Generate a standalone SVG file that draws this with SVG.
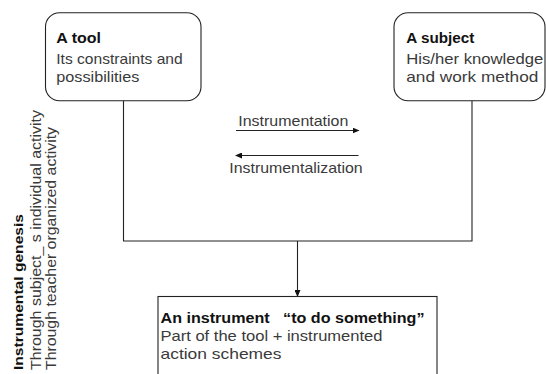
<svg xmlns="http://www.w3.org/2000/svg" width="546" height="374" viewBox="0 0 546 374">
<style>
.box{fill:#fff;stroke:#222;stroke-width:1.1}
.t{font-family:"Liberation Sans",Arial,sans-serif;font-size:15px;fill:#3a3a3a}
.b{font-family:"Liberation Sans",Arial,sans-serif;font-size:14.5px;font-weight:bold;fill:#111}
.v{font-family:"Liberation Sans",Arial,sans-serif;font-size:14.5px;fill:#3a3a3a}
.vb{font-family:"Liberation Sans",Arial,sans-serif;font-size:13px;font-weight:bold;fill:#111}
.c{fill:none;stroke:#222;stroke-width:1.1}
.pre{white-space:pre}
</style>
<defs>
<marker id="ah" markerWidth="7" markerHeight="6" refX="6" refY="3" orient="auto" markerUnits="userSpaceOnUse">
<path d="M0,0 L7,3 L0,6 Z" fill="#111"/>
</marker>
</defs>
<rect width="546" height="374" fill="#fff"/>
<g id="connectors">
<path class="c" d="M123.5,100.5 V241 H472 V100.5"/>
<line class="c" x1="297.5" y1="241" x2="297.5" y2="296" marker-end="url(#ah)"/>
<line class="c" x1="236" y1="130.5" x2="358.5" y2="130.5" marker-end="url(#ah)"/>
<line class="c" x1="358.5" y1="155.5" x2="236" y2="155.5" marker-end="url(#ah)"/>
<text class="t" x="238.3" y="126" textLength="110" lengthAdjust="spacingAndGlyphs">Instrumentation</text>
<text class="t" x="229.3" y="172.5" textLength="133.4" lengthAdjust="spacingAndGlyphs">Instrumentalization</text>
</g>
<g id="tool">
<rect class="box" x="45.5" y="12.7" width="155.5" height="88" rx="14" ry="14"/>
<text class="b" x="56.3" y="43" textLength="44.7" lengthAdjust="spacingAndGlyphs">A tool</text>
<text class="t" x="56.3" y="63.5" textLength="126.4" lengthAdjust="spacingAndGlyphs">Its constraints and</text>
<text class="t" x="56.3" y="82" textLength="83" lengthAdjust="spacingAndGlyphs">possibilities</text>
</g>
<g id="subject">
<rect class="box" x="394" y="12.7" width="151" height="88" rx="14" ry="14"/>
<text class="b" x="406.3" y="43" textLength="68" lengthAdjust="spacingAndGlyphs">A subject</text>
<text class="t" x="406.3" y="63.5" textLength="137" lengthAdjust="spacingAndGlyphs">His/her knowledge</text>
<text class="t" x="406.3" y="82" textLength="132" lengthAdjust="spacingAndGlyphs">and work method</text>
</g>
<g id="instrument">
<rect class="box" x="158" y="296.5" width="279" height="90"/>
<text class="b pre" x="160.5" y="323" textLength="264" lengthAdjust="spacingAndGlyphs">An instrument   “to do something”</text>
<text class="t" x="160.5" y="341" textLength="222" lengthAdjust="spacingAndGlyphs">Part of the tool + instrumented</text>
<text class="t" x="160.5" y="358.5" textLength="121" lengthAdjust="spacingAndGlyphs">action schemes</text>
</g>
<g id="genesis">
<text class="vb" transform="translate(22.5,370) rotate(-90)" textLength="156" lengthAdjust="spacingAndGlyphs">Instrumental genesis</text>
<text class="v" transform="translate(40.5,370) rotate(-90)" textLength="260" lengthAdjust="spacingAndGlyphs">Through subject_ s individual activity</text>
<text class="v" transform="translate(55.5,370) rotate(-90)" textLength="243" lengthAdjust="spacingAndGlyphs">Through teacher organized activity</text>
</g>
</svg>
